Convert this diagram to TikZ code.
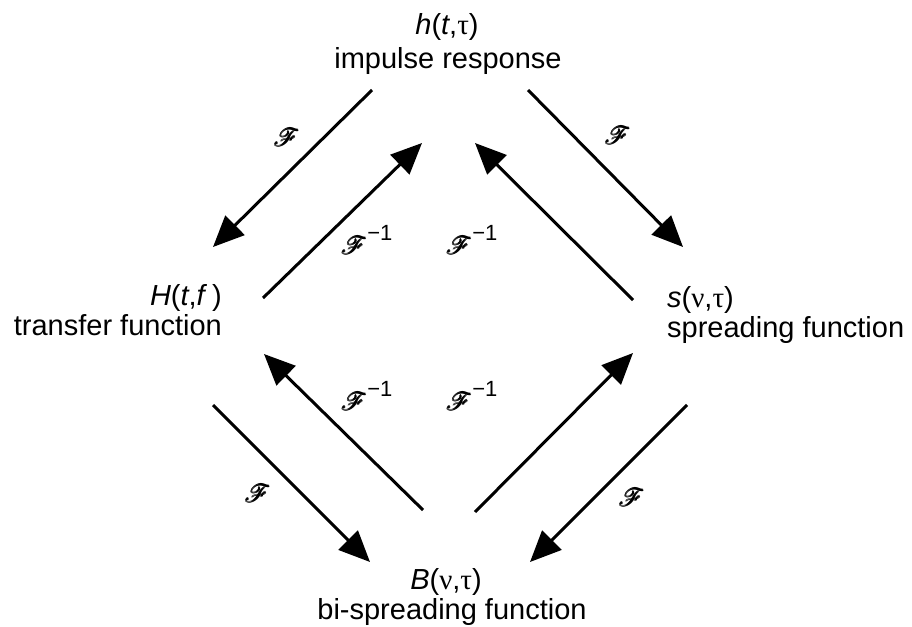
\documentclass[tikz,border=0pt]{standalone}
\usepackage{fontspec}
\setmainfont{Liberation Sans}
\newfontfamily\grk{Liberation Serif}
\usepackage{amsbsy}
\usepackage{mathrsfs}
\usetikzlibrary{arrows.meta}
\newcommand{\myF}{$\pmb{\mathscr{F}}$}
\newcommand{\myFi}{$\pmb{\mathscr{F}}$\raisebox{0.4em}{\fontsize{22}{22}\selectfont −1}}
\tikzset{
  lbl/.style={font=\fontsize{29}{33}\selectfont, inner sep=0pt},
  op/.style={font=\fontsize{34}{36}\selectfont, inner sep=0pt},
  arr/.style={line width=3pt, -{Triangle[length=31pt,width=27pt]}}
}
\begin{document}
\begin{tikzpicture}[x=1pt,y=-1pt]
\useasboundingbox (0,0) rectangle (912,626);
% text nodes
\node[lbl,anchor=base] (hname) at (447,35) {\textit{h}(\textit{t},{\grk τ})};
\node[lbl,anchor=base] (hdesc) at (448,69) {impulse response};
\node[lbl,anchor=base east] (Hname) at (222,305) {\textit{H}(\textit{t},\textit{f}\,)};
\node[lbl,anchor=base east] (Hdesc) at (222,335) {transfer function};
\node[lbl,anchor=base west] (sname) at (667,307) {\textit{s}({\grk ν},{\grk τ})};
\node[lbl,anchor=base west] (sdesc) at (667,337) {spreading function};
\node[lbl,anchor=base] (Bname) at (446,589) {\textit{B}({\grk ν},{\grk τ})};
\node[lbl,anchor=base] (Bdesc) at (452,619) {bi-spreading function};
% operator labels
\node[op] (f1) at (287,137) {\myF};
\node[op] (f2) at (618,135) {\myF};
\node[op] (f3) at (258,493) {\myF};
\node[op] (f4) at (632,497) {\myF};
\node[op] (i1) at (367,240) {\myFi};
\node[op] (i2) at (472,240) {\myFi};
\node[op] (i3) at (367,396) {\myFi};
\node[op] (i4) at (472,396) {\myFi};
% arrow endpoints
\coordinate (a1s) at (372,90);  \coordinate (a1e) at (213,247);
\coordinate (a2s) at (263,298); \coordinate (a2e) at (422,143);
\coordinate (a3s) at (633,300); \coordinate (a3e) at (475,143);
\coordinate (a4s) at (528,90);  \coordinate (a4e) at (683,247);
\coordinate (a5s) at (423,510); \coordinate (a5e) at (264,354);
\coordinate (a6s) at (475,512); \coordinate (a6e) at (633,353);
\coordinate (a7s) at (213,405); \coordinate (a7e) at (370,562);
\coordinate (a8s) at (687,405); \coordinate (a8e) at (530,562);
\draw[arr] (a1s) -- (a1e);
\draw[arr] (a2s) -- (a2e);
\draw[arr] (a3s) -- (a3e);
\draw[arr] (a4s) -- (a4e);
\draw[arr] (a5s) -- (a5e);
\draw[arr] (a6s) -- (a6e);
\draw[arr] (a7s) -- (a7e);
\draw[arr] (a8s) -- (a8e);
\end{tikzpicture}
\end{document}
